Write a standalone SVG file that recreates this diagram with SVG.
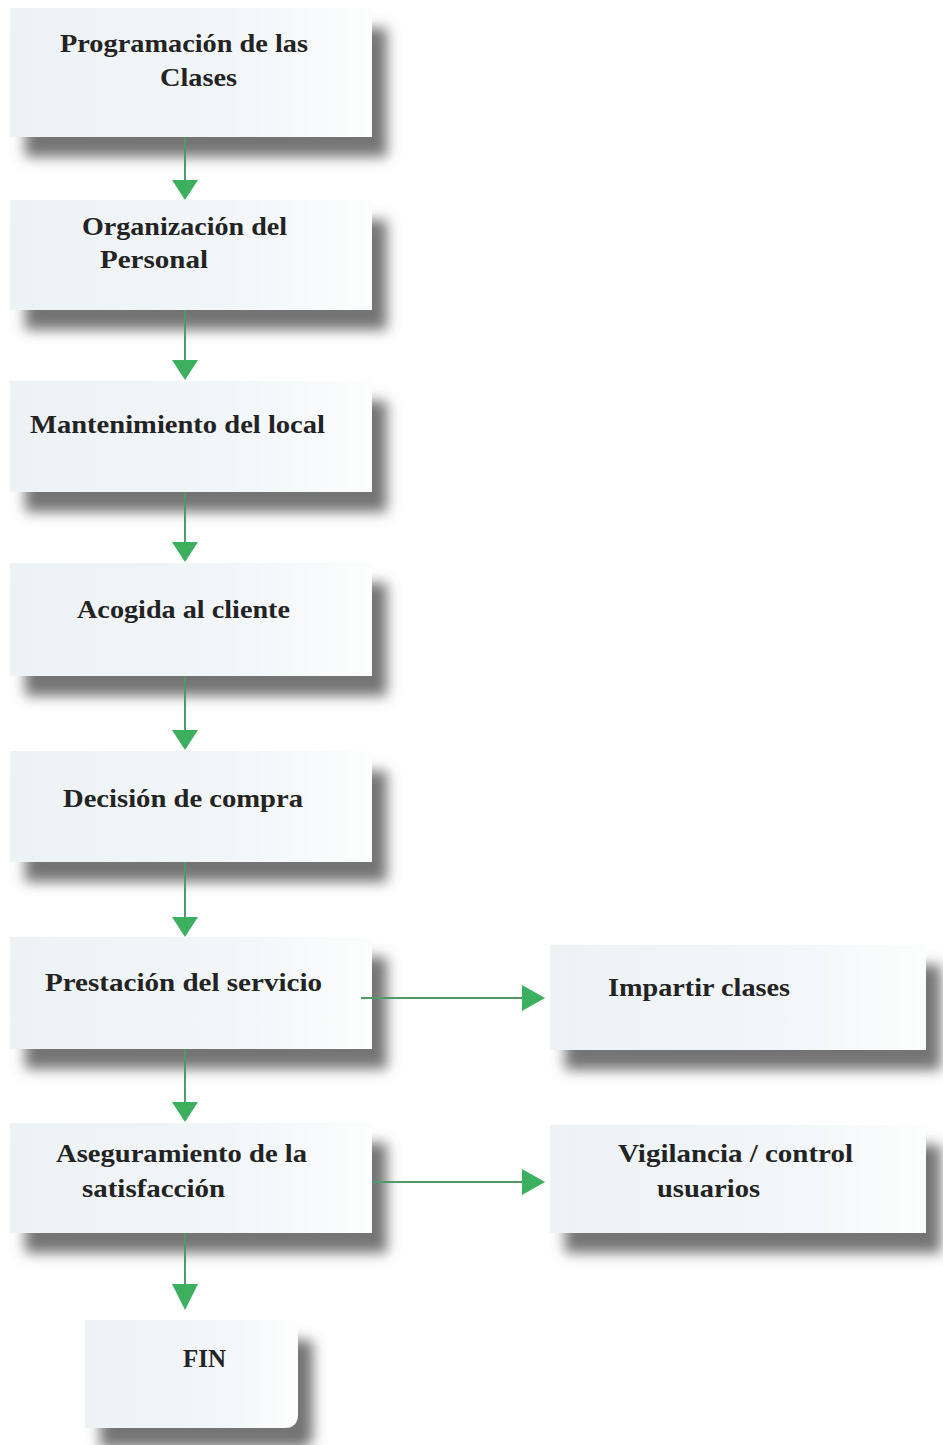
<svg xmlns="http://www.w3.org/2000/svg" width="943" height="1445" viewBox="0 0 943 1445">
<defs>
<linearGradient id="boxfill" x1="0" y1="0" x2="1" y2="0">
<stop offset="0" stop-color="#edf2f5"/>
<stop offset="0.6" stop-color="#f2f6f8"/>
<stop offset="1" stop-color="#fcfdfd"/>
</linearGradient>
<filter id="shadow" x="-10%" y="-25%" width="135%" height="170%">
<feGaussianBlur in="SourceAlpha" stdDeviation="6.5"/>
<feOffset dx="15" dy="20" result="b"/>
<feFlood flood-color="#5c5c5c" flood-opacity="0.85"/>
<feComposite in2="b" operator="in" result="s"/>
<feMerge><feMergeNode in="s"/><feMergeNode in="SourceGraphic"/></feMerge>
</filter>
</defs>
<style>
.box{fill:url(#boxfill);filter:url(#shadow)}
.t{font-family:"Liberation Serif","DejaVu Serif",serif;font-weight:bold;font-size:26px;fill:#232323}
.ln{stroke:#4e9a68;stroke-width:2;fill:none}
.hd{fill:#3cb05e}
</style>
<rect width="943" height="1445" fill="#ffffff"/>

<g id="n1">
<rect class="box" x="10" y="8" width="362" height="129"/>
<text class="t" x="60" y="52" textLength="248" lengthAdjust="spacingAndGlyphs">Programación de las</text>
<text class="t" x="160" y="86" textLength="77" lengthAdjust="spacingAndGlyphs">Clases</text>
</g>
<g id="n2">
<rect class="box" x="10" y="200" width="362" height="110"/>
<text class="t" x="82" y="235" textLength="205" lengthAdjust="spacingAndGlyphs">Organización del</text>
<text class="t" x="100" y="268" textLength="108" lengthAdjust="spacingAndGlyphs">Personal</text>
</g>
<g id="n3">
<rect class="box" x="10" y="381" width="362" height="111"/>
<text class="t" x="30" y="433" textLength="295" lengthAdjust="spacingAndGlyphs">Mantenimiento del local</text>
</g>
<g id="n4">
<rect class="box" x="10" y="563" width="362" height="113"/>
<text class="t" x="77" y="618" textLength="213" lengthAdjust="spacingAndGlyphs">Acogida al cliente</text>
</g>
<g id="n5">
<rect class="box" x="10" y="751" width="362" height="111"/>
<text class="t" x="63" y="807" textLength="240" lengthAdjust="spacingAndGlyphs">Decisión de compra</text>
</g>
<g id="n6">
<rect class="box" x="10" y="937" width="362" height="112"/>
<text class="t" x="45" y="991" textLength="277" lengthAdjust="spacingAndGlyphs">Prestación del servicio</text>
</g>
<g id="n7">
<rect class="box" x="10" y="1123" width="362" height="110"/>
<text class="t" x="56" y="1162" textLength="251" lengthAdjust="spacingAndGlyphs">Aseguramiento de la</text>
<text class="t" x="82" y="1197" textLength="143" lengthAdjust="spacingAndGlyphs">satisfacción</text>
</g>
<g id="n8">
<path class="box" d="M85,1320 H292 Q298,1320 298,1326 V1414 Q298,1428 284,1428 H85 Z"/>
<text class="t" x="183" y="1367" textLength="43" lengthAdjust="spacingAndGlyphs">FIN</text>
</g>
<g id="n9">
<rect class="box" x="550" y="945" width="376" height="105"/>
<text class="t" x="608" y="996" textLength="182" lengthAdjust="spacingAndGlyphs">Impartir clases</text>
</g>
<g id="n10">
<rect class="box" x="550" y="1125" width="376" height="108"/>
<text class="t" x="618" y="1162" textLength="235" lengthAdjust="spacingAndGlyphs">Vigilancia / control</text>
<text class="t" x="657" y="1197" textLength="103" lengthAdjust="spacingAndGlyphs">usuarios</text>
</g>

<g id="connectors">
<line class="ln" x1="185" y1="137" x2="185" y2="182"/>
<polygon class="hd" points="172,180 198,180 185,200"/>
<line class="ln" x1="185" y1="310" x2="185" y2="362"/>
<polygon class="hd" points="172,360 198,360 185,380"/>
<line class="ln" x1="185" y1="492" x2="185" y2="544"/>
<polygon class="hd" points="172,542 198,542 185,562"/>
<line class="ln" x1="185" y1="676" x2="185" y2="732"/>
<polygon class="hd" points="172,730 198,730 185,750"/>
<line class="ln" x1="185" y1="862" x2="185" y2="919"/>
<polygon class="hd" points="172,917 198,917 185,937"/>
<line class="ln" x1="185" y1="1049" x2="185" y2="1104"/>
<polygon class="hd" points="172,1102 198,1102 185,1122"/>
<line class="ln" x1="185" y1="1233" x2="185" y2="1286"/>
<polygon class="hd" points="172,1284 198,1284 185,1310"/>
<line class="ln" x1="361" y1="998" x2="524" y2="998"/>
<polygon class="hd" points="522,985 522,1011 545,998"/>
<line class="ln" x1="373" y1="1182" x2="524" y2="1182"/>
<polygon class="hd" points="522,1169 522,1195 545,1182"/>
</g>
</svg>
